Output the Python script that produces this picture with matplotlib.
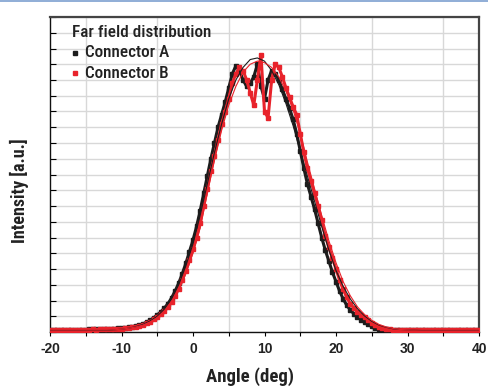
import numpy as np
import matplotlib
matplotlib.use("Agg")
import matplotlib.pyplot as plt
from matplotlib.lines import Line2D

plt.rcParams['font.family'] = ['Roboto Condensed', 'Liberation Sans', 'DejaVu Sans']

# Measured far-field profiles, sampled every 0.5 deg
angle = np.arange(-20.0, 40.01, 0.5)

intensity_a = [
    0.005, 0.006, 0.005, 0.006, 0.006, 0.006, 0.007, 0.006, 0.007, 0.007,
    0.007, 0.008, 0.008, 0.008, 0.009, 0.009, 0.010, 0.010, 0.011, 0.012,
    0.012, 0.013, 0.015, 0.017, 0.019, 0.022, 0.026, 0.031, 0.037, 0.045,
    0.054, 0.064, 0.076, 0.090, 0.108, 0.130, 0.155, 0.185, 0.218, 0.255,
    0.292, 0.335, 0.385, 0.440, 0.495, 0.550, 0.600, 0.650, 0.690, 0.730,
    0.775, 0.820, 0.845, 0.830, 0.800, 0.780, 0.790, 0.810, 0.850, 0.780,
    0.740, 0.800, 0.830, 0.820, 0.800, 0.770, 0.740, 0.710, 0.675, 0.630,
    0.575, 0.520, 0.470, 0.430, 0.390, 0.345, 0.300, 0.260, 0.225, 0.190,
    0.160, 0.130, 0.105, 0.085, 0.070, 0.058, 0.048, 0.039, 0.031, 0.024,
    0.018, 0.014, 0.011, 0.009, 0.008, 0.007, 0.006, 0.005, 0.006, 0.005,
    0.005, 0.006, 0.005, 0.005, 0.006, 0.005, 0.005, 0.006, 0.005, 0.005,
    0.006, 0.005, 0.005, 0.006, 0.005, 0.005, 0.006, 0.005, 0.005, 0.006, 0.005,
]

intensity_b = [
    0.006, 0.006, 0.007, 0.006, 0.006, 0.007, 0.006, 0.007, 0.007, 0.006,
    0.007, 0.007, 0.008, 0.007, 0.008, 0.008, 0.009, 0.009, 0.010, 0.010,
    0.011, 0.012, 0.013, 0.015, 0.017, 0.020, 0.023, 0.028, 0.033, 0.040,
    0.048, 0.058, 0.068, 0.080, 0.095, 0.115, 0.138, 0.165, 0.195, 0.228,
    0.262, 0.300, 0.345, 0.400, 0.455, 0.510, 0.560, 0.610, 0.660, 0.700,
    0.740, 0.790, 0.820, 0.840, 0.830, 0.800, 0.760, 0.720, 0.800, 0.880,
    0.700, 0.680, 0.800, 0.850, 0.840, 0.810, 0.775, 0.745, 0.715, 0.690,
    0.630, 0.570, 0.520, 0.480, 0.440, 0.400, 0.355, 0.305, 0.270, 0.235,
    0.200, 0.165, 0.135, 0.110, 0.090, 0.076, 0.064, 0.055, 0.047, 0.038,
    0.030, 0.023, 0.017, 0.013, 0.010, 0.008, 0.007, 0.006, 0.007, 0.006,
    0.006, 0.007, 0.006, 0.006, 0.007, 0.006, 0.006, 0.007, 0.006, 0.006,
    0.007, 0.006, 0.006, 0.007, 0.006, 0.006, 0.007, 0.006, 0.006, 0.007, 0.006,
]

# Fitted profiles, sampled every 1 deg
fit_angle = np.arange(-20.0, 40.01, 1.0)

fit_a = [
    0.005, 0.005, 0.005, 0.005, 0.005, 0.005, 0.005, 0.005, 0.005,
    0.007, 0.009, 0.012, 0.017, 0.024, 0.035, 0.050, 0.073, 0.105, 0.150, 0.210,
    0.280, 0.370, 0.470, 0.570, 0.660, 0.740, 0.800, 0.840, 0.865, 0.870,
    0.860, 0.830, 0.785, 0.725, 0.655, 0.575, 0.495, 0.415, 0.335, 0.260,
    0.195, 0.145, 0.105, 0.074, 0.051, 0.034, 0.022, 0.015, 0.010, 0.008,
    0.007, 0.006, 0.005, 0.005, 0.005, 0.005, 0.005, 0.005, 0.005, 0.005, 0.005,
]

fit_b = [
    0.006, 0.006, 0.006, 0.006, 0.006, 0.006, 0.006, 0.006, 0.006,
    0.007, 0.009, 0.012, 0.016, 0.022, 0.032, 0.046, 0.066, 0.095, 0.135, 0.185,
    0.250, 0.330, 0.440, 0.545, 0.640, 0.720, 0.780, 0.825, 0.850, 0.860,
    0.855, 0.840, 0.810, 0.765, 0.705, 0.630, 0.540, 0.455, 0.370, 0.290,
    0.220, 0.160, 0.115, 0.080, 0.055, 0.037, 0.024, 0.016, 0.011, 0.008,
    0.007, 0.006, 0.006, 0.006, 0.006, 0.006, 0.006, 0.006, 0.006, 0.006, 0.006,
]

x_ticks = [-20, -10, 0, 10, 20, 30, 40]
x_tick_labels = ["-20", "-10", "0", "10", "20", "30", "40"]

black = "#1c1c1c"
red = "#e8232b"
text_color = "#222222"

fig = plt.figure(figsize=(4.88, 3.88), dpi=100)
ax = fig.add_axes([50 / 488, 56 / 388, 429 / 488, 315 / 388])

ax.set_xlim(-20, 40)
ax.set_ylim(0, 1.0)

# grid
ax.set_xticks(np.arange(-20, 41, 5), minor=True)
ax.set_yticks(np.arange(0, 1.001, 0.05))
ax.grid(True, which='minor', axis='x', color='#d8d8d8', lw=1.0, zorder=0)
ax.grid(True, which='major', axis='y', color='#d8d8d8', lw=1.0, zorder=0)
ax.set_axisbelow(True)

ax.plot(angle, intensity_a, color=black, lw=2.2, marker='s', ms=3.4,
        mec=black, mfc=black, zorder=2)
ax.plot(angle, intensity_b, color=red, lw=2.2, marker='s', ms=3.4,
        mec=red, mfc=red, zorder=3)
ax.plot(fit_angle, fit_a, color=black, lw=0.8, zorder=4)
ax.plot(fit_angle, fit_b, color=red, lw=0.8, zorder=4)

ax.set_xticks(x_ticks)
ax.set_xticklabels(x_tick_labels, fontsize=10, fontweight='bold', color=text_color,
                   family=['Liberation Sans', 'DejaVu Sans'])
ax.tick_params(axis='x', which='both', direction='out', length=3, width=0.8, pad=4)
ax.tick_params(axis='y', which='both', direction='in', length=4, width=0.8,
               labelleft=False)

for side in ['left', 'bottom']:
    ax.spines[side].set_color('#111111')
    ax.spines[side].set_linewidth(1.0)
for side in ['top', 'right']:
    ax.spines[side].set_color('#444444')
    ax.spines[side].set_linewidth(1.6)

ax.set_xlabel("Angle (deg)", fontsize=13.5, fontweight='bold', color=text_color)
ax.xaxis.set_label_coords(0.466, -0.112)
ax.set_ylabel("Intensity [a.u.]", fontsize=13, fontweight='bold', color=text_color)
ax.yaxis.set_label_coords(-0.048, 0.45)

# legend block
legend_size = 12.3
ax.text(0.051, 0.952, "Far field distribution", transform=ax.transAxes,
        fontsize=legend_size, fontweight='medium', color=text_color,
        va='center', ha='left')
ax.plot([0.058], [0.886], marker='s', ms=3, color=black, transform=ax.transAxes,
        clip_on=False)
ax.text(0.0816, 0.886, "Connector A", transform=ax.transAxes,
        fontsize=legend_size, fontweight='medium', color=text_color,
        va='center', ha='left')
ax.plot([0.058], [0.822], marker='s', ms=3, color=red, transform=ax.transAxes,
        clip_on=False)
ax.text(0.0816, 0.822, "Connector B", transform=ax.transAxes,
        fontsize=legend_size, fontweight='medium', color=text_color,
        va='center', ha='left')

# thin rule along the top edge
fig.add_artist(Line2D([0, 1], [0.997, 0.997], transform=fig.transFigure,
                      color='#7d9fcf', lw=1.2))

fig.savefig("out.png", dpi=100)
